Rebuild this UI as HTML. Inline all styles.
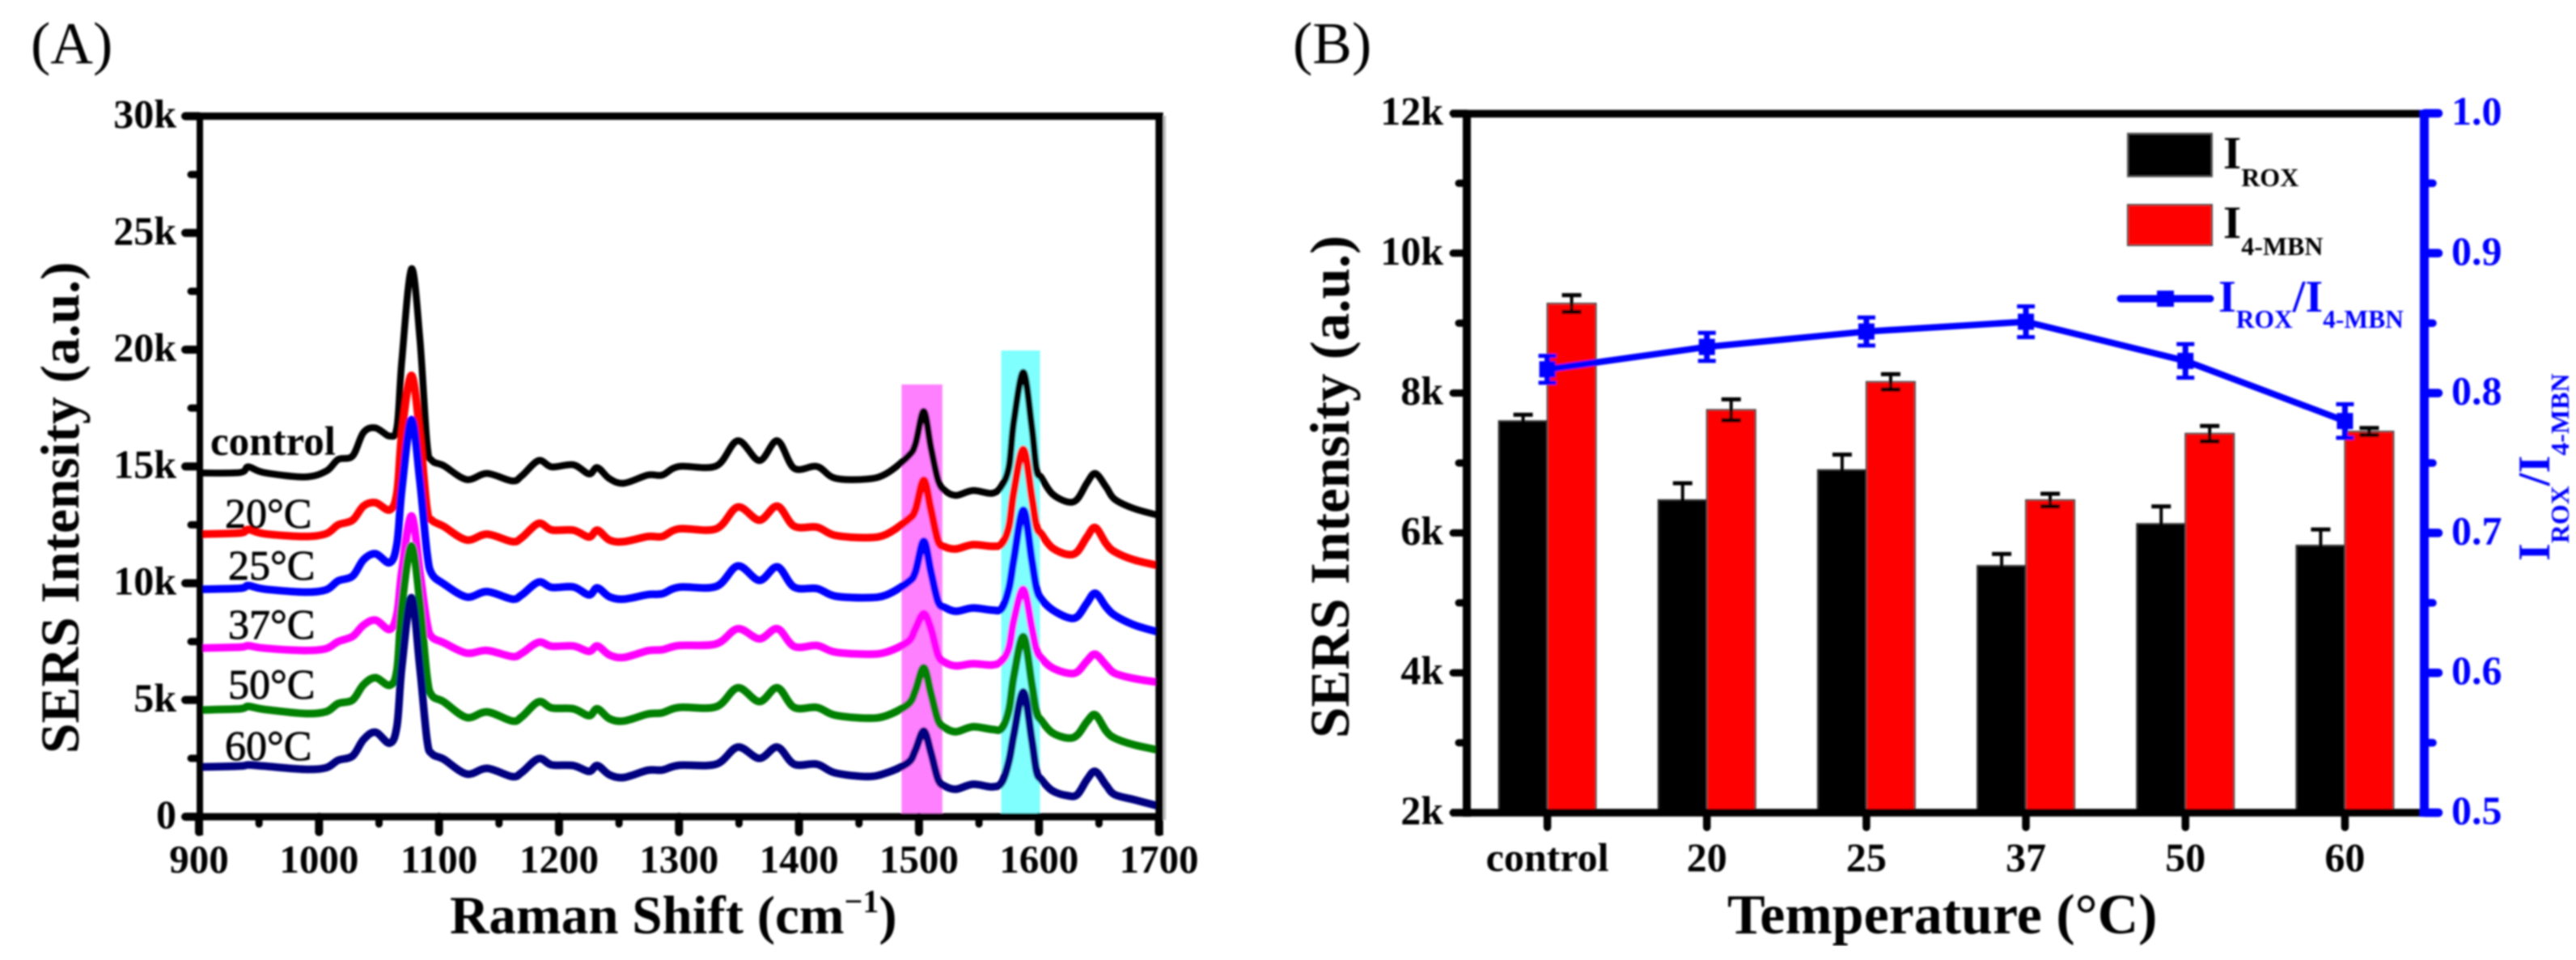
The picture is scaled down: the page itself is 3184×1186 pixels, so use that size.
<!DOCTYPE html>
<html lang="en">
<head>
<meta charset="utf-8">
<title>SERS spectra and intensity by temperature</title>
<style>
html,body{margin:0;padding:0;background:#fff;}
body{width:3184px;height:1186px;overflow:hidden;}
svg{display:block;}
text{font-family:"Liberation Serif",serif;}
.b{font-weight:bold;}
</style>
</head>
<body>
<svg id="figure" xmlns="http://www.w3.org/2000/svg" width="3184" height="1186" viewBox="0 0 3184 1186">
  <defs><filter id="soft" x="0" y="0" width="100%" height="100%"><feGaussianBlur stdDeviation="1"/></filter></defs>
  <rect width="3184" height="1186" fill="#fff"/>
  <g id="root" filter="url(#soft)">
    <text x="38" y="78" font-size="73">(A)</text>
    <text x="1598" y="78" font-size="73">(B)</text>

    <g id="panelA"></g>
    <text class="b" x="556" y="1153" font-size="67">Raman Shift (cm<tspan font-size="40" dy="-26">−1</tspan><tspan dy="26">)</tspan></text>
    <text class="b" transform="translate(97,931) rotate(-90)" font-size="67.5">SERS Intensity (a.u.)</text>

    <g id="panelB"></g>
    <text class="b" x="2135" y="1153" font-size="70">Temperature (°C)</text>
    <text class="b" transform="translate(1667,912) rotate(-90)" font-size="69">SERS Intensity (a.u.)</text>
    <text class="b" fill="#0000ff" transform="translate(3151,693) rotate(-90)" font-size="56">I<tspan font-size="32" dy="24">ROX</tspan><tspan dy="-24">/I</tspan><tspan font-size="32" dy="24">4-MBN</tspan></text>

    <g>
      <rect x="2630" y="165" width="104" height="53" fill="#000" stroke="#555" stroke-width="2"/>
      <text class="b" x="2748" y="208" font-size="57">I<tspan font-size="32" dy="22">ROX</tspan></text>
      <rect x="2630" y="253" width="104" height="50" fill="#ff0000" stroke="#444" stroke-width="2"/>
      <text class="b" x="2748" y="294" font-size="57">I<tspan font-size="32" dy="21">4-MBN</tspan></text>
      <line x1="2621" y1="369" x2="2732" y2="369" stroke="#0000ff" stroke-width="9" stroke-linecap="round"/>
      <rect x="2666" y="359" width="21" height="20" fill="#0000ff"/>
      <text class="b" fill="#0000ff" x="2742" y="385" font-size="56">I<tspan font-size="31.5" dy="20">ROX</tspan><tspan dy="-20">/I</tspan><tspan font-size="31.5" dy="20">4-MBN</tspan></text>
    </g>
  </g>
</svg>
<script>
// Panel A data: Raman shift (cm-1) and intensity (k)
const shifts = [900,934,941,954,988,1006,1016,1028,1037,1047,1059,1065,1069,1077,1084,1090,1094,1104,1123,1140,1161,1169,1183,1194,1212,1225,1232,1242,1254,1274,1286,1300,1331,1349,1367,1382,1396,1415,1430,1457,1473,1491,1497,1504,1510,1516,1522,1531,1545,1561,1569,1575,1579,1587,1594,1598,1602,1611,1624,1632,1640,1647,1656,1663,1679,1700];
const seriesControl = [14.72,14.74,14.98,14.74,14.55,14.8,15.3,15.45,16.45,16.65,16.3,16.7,19.5,23.46,20.5,16.0,15.26,15.03,14.44,14.7,14.38,14.6,15.25,14.98,15.07,14.68,14.95,14.48,14.28,14.63,14.63,15.0,15.02,16.1,15.25,16.1,14.92,15.0,14.5,14.46,14.7,15.44,15.95,17.36,15.8,14.4,13.95,13.76,13.97,13.85,14.18,14.99,16.9,19.03,16.7,14.87,14.52,13.83,13.48,13.6,14.29,14.7,14.12,13.6,13.2,12.9];
const series20 = [12.1,12.15,12.3,12.12,12.0,12.12,12.5,12.7,13.3,13.45,13.14,13.9,16.4,18.9,16.4,13.2,12.7,12.43,11.85,12.1,11.78,11.95,12.56,12.28,12.27,11.98,12.27,11.85,11.78,12.0,12.0,12.33,12.33,13.26,12.7,13.3,12.44,12.4,12.05,11.95,12.1,12.73,13.14,14.41,13.14,11.8,11.55,11.47,11.65,11.58,11.69,12.44,13.9,15.73,13.7,12.44,12.1,11.52,11.23,11.35,11.98,12.38,11.69,11.35,11.0,10.75];
const series25 = [9.74,9.78,9.9,9.75,9.62,9.72,10.1,10.3,11.0,11.26,10.88,11.7,14.0,17.0,14.4,11.3,10.4,9.97,9.41,9.64,9.32,9.5,10.05,9.82,9.84,9.5,9.8,9.42,9.32,9.51,9.55,9.83,9.86,10.74,10.12,10.7,9.83,9.77,9.45,9.38,9.5,10.05,10.48,11.8,10.48,9.2,8.95,8.8,8.94,8.85,8.92,9.78,11.0,13.13,11.0,9.78,9.32,8.87,8.53,8.57,9.15,9.57,8.98,8.63,8.22,7.9];
const series37 = [7.22,7.26,7.32,7.22,7.12,7.2,7.5,7.72,8.2,8.42,8.02,8.7,10.5,12.88,10.5,8.3,7.7,7.45,7.01,7.12,6.86,7.0,7.47,7.3,7.31,7.08,7.31,6.93,6.82,7.11,7.15,7.33,7.4,8.05,7.62,8.05,7.29,7.33,7.05,6.96,7.05,7.5,8.05,8.7,8.05,6.9,6.6,6.46,6.55,6.5,6.67,7.24,8.4,9.74,8.1,7.14,6.79,6.38,6.15,6.2,6.67,6.96,6.49,6.15,5.92,5.75];
const series50 = [4.57,4.62,4.72,4.6,4.42,4.5,4.85,5.0,5.65,5.95,5.63,6.3,9.0,11.6,9.2,6.0,5.2,4.92,4.25,4.49,4.1,4.28,4.92,4.66,4.62,4.33,4.62,4.2,4.1,4.4,4.45,4.68,4.71,5.52,4.93,5.52,4.68,4.68,4.35,4.22,4.33,4.82,5.4,6.38,5.28,4.12,3.8,3.64,3.85,3.74,3.78,4.59,6.0,7.71,5.7,4.47,4.12,3.6,3.37,3.5,4.07,4.36,3.67,3.37,3.08,2.85];
const series60 = [2.13,2.17,2.22,2.17,2.03,2.1,2.42,2.6,3.3,3.62,3.15,3.9,6.4,9.38,6.4,3.3,2.7,2.46,1.83,2.07,1.72,1.9,2.49,2.22,2.19,1.94,2.19,1.8,1.68,1.99,2.0,2.2,2.25,2.98,2.5,2.98,2.25,2.25,1.88,1.72,1.88,2.32,2.85,3.67,2.74,1.59,1.3,1.18,1.39,1.28,1.47,2.39,3.5,5.34,3.3,1.94,1.59,1.12,0.9,0.95,1.59,1.94,1.35,0.95,0.73,0.45];
const seriesLabels = ['control','20°C','25°C','37°C','50°C','60°C'];
const xTicksA = [900,1000,1100,1200,1300,1400,1500,1600,1700];
const xMinorA = [950,1050,1150,1250,1350,1450,1550,1650];
const yTicksA = [0,5,10,15,20,25,30];
const yTickLabelsA = ['0','5k','10k','15k','20k','25k','30k'];
const yMinorA = [2.5,7.5,12.5,17.5,22.5,27.5];
const bandMagenta = [1485.5,1519.5];
const bandCyan = [1568.5,1600.9];

// Panel B data
const categories = ['control','20','25','37','50','60'];
const iRox = [7.6,6.47,6.9,5.53,6.13,5.82];
const iRoxErr = [0.09,0.24,0.22,0.17,0.25,0.23];
const i4Mbn = [9.28,7.76,8.16,6.47,7.42,7.45];
const i4MbnErr = [0.12,0.15,0.11,0.09,0.11,0.05];
const ratio = [0.817,0.833,0.844,0.851,0.823,0.78];
const ratioErr = [0.0096,0.01,0.01,0.011,0.012,0.012];
const yTicksB = [2,4,6,8,10,12];
const yTickLabelsB = ['2k','4k','6k','8k','10k','12k'];
const yMinorB = [3,5,7,9,11];
const yTicksR = [0.5,0.6,0.7,0.8,0.9,1.0];
const yTickLabelsR = ['0.5','0.6','0.7','0.8','0.9','1.0'];
const yMinorR = [0.55,0.65,0.75,0.85,0.95];

const NS = 'http://www.w3.org/2000/svg';
function el(tag, attrs, parent, txt) {
  const e = document.createElementNS(NS, tag);
  for (const k in attrs) e.setAttribute(k, attrs[k]);
  if (txt !== undefined) e.textContent = txt;
  parent.appendChild(e);
  return e;
}
// axis functions
const xA = v => 246 + (v - 900) * (1186.5 / 800);
const yA = v => 1009 - v * (865.5 / 30);
const xB = i => 1814 + (i + 0.5) * (1183 / 6);
const yL = v => 1004 - (v - 2) * (864 / 10);
const yR = v => 1004 - (v - 0.5) * (864 / 0.5);

function smooth(pts) {
  let d = 'M' + pts[0][0].toFixed(1) + ' ' + pts[0][1].toFixed(1);
  for (let i = 0; i < pts.length - 1; i++) {
    const p0 = pts[Math.max(0, i - 1)], p1 = pts[i], p2 = pts[i + 1], p3 = pts[Math.min(pts.length - 1, i + 2)];
    const c1x = p1[0] + (p2[0] - p0[0]) / 6, c1y = p1[1] + (p2[1] - p0[1]) / 6;
    const c2x = p2[0] - (p3[0] - p1[0]) / 6, c2y = p2[1] - (p3[1] - p1[1]) / 6;
    d += 'C' + c1x.toFixed(1) + ' ' + c1y.toFixed(1) + ' ' + c2x.toFixed(1) + ' ' + c2y.toFixed(1) + ' ' + p2[0].toFixed(1) + ' ' + p2[1].toFixed(1);
  }
  return d;
}

/* ---------- Panel A ---------- */
const A = document.getElementById('panelA');
const bm = el('rect', {x: xA(bandMagenta[0]), y: 475, width: xA(bandMagenta[1]) - xA(bandMagenta[0]), height: 532, fill: '#ff80ff'}, A);


const bc = el('rect', {x: xA(bandCyan[0]), y: 433, width: xA(bandCyan[1]) - xA(bandCyan[0]), height: 574, fill: '#80ffff'}, A);



const spectra = [
  [seriesControl, '#000000', 'spectrum-control', 8.5],
  [series20, '#ff0000', 'spectrum-20c', 9.5],
  [series25, '#0000ff', 'spectrum-25c', 9.5],
  [series37, '#ff00ff', 'spectrum-37c', 9.5],
  [series50, '#008000', 'spectrum-50c', 9.5],
  [series60, '#000080', 'spectrum-60c', 9.5]
];
spectra.forEach(s => {
  const pts = s[0].map((v, i) => [xA(shifts[i]), yA(v)]);
  const p = el('path', {d: smooth(pts), fill: 'none', stroke: s[1], 'stroke-width': s[3], 'stroke-linejoin': 'round'}, A);
  
  
});

const labelPosA = [[260, 562], [278, 652], [282, 716], [282, 789], [282, 863], [278, 939]];
seriesLabels.forEach((t, i) => {
  const l = el('text', i === 0
    ? {x: labelPosA[i][0], y: labelPosA[i][1], 'font-size': 51, 'font-weight': 'bold'}
    : {x: labelPosA[i][0], y: labelPosA[i][1], 'font-size': 52, stroke: '#000', 'stroke-width': 0.8}, A, t);
  
  
});

// frame A
const frameA = el('path', {d: 'M228 143.5H1433M228 1009H1433', fill: 'none', stroke: '#000', 'stroke-width': 9}, A);


const leftA = el('line', {x1: 247, x2: 247, y1: 143, y2: 1032, stroke: '#000', 'stroke-width': 8}, A);


const rightA = el('line', {x1: 1433, x2: 1433, y1: 139, y2: 1032, stroke: '#000', 'stroke-width': 9.5}, A);


const shadowA = el('rect', {x: 1438, y: 143, width: 3, height: 870, fill: '#bbb'}, A);



yTicksA.forEach((v, i) => {
  const t = el('line', {x1: 229, x2: 246, y1: yA(v), y2: yA(v), stroke: '#000', 'stroke-width': 10, 'stroke-linecap': 'round'}, A);
  
  
  const l = el('text', {x: 218, y: yA(v) + 14, 'font-size': 50, 'font-weight': 'bold', 'text-anchor': 'end'}, A, yTickLabelsA[i]);
  
  
});
yMinorA.forEach(v => {
  const t = el('line', {x1: 236, x2: 246, y1: yA(v), y2: yA(v), stroke: '#000', 'stroke-width': 9, 'stroke-linecap': 'round'}, A);
  
  
});
xTicksA.forEach(v => {
  const t = el('line', {x1: xA(v), x2: xA(v), y1: 1009, y2: 1028, stroke: '#000', 'stroke-width': 10, 'stroke-linecap': 'round'}, A);
  
  
  const l = el('text', {x: xA(v), y: 1078, 'font-size': 49, 'font-weight': 'bold', 'text-anchor': 'middle'}, A, String(v));
  
  
});
xMinorA.forEach(v => {
  const t = el('line', {x1: xA(v), x2: xA(v), y1: 1009, y2: 1018, stroke: '#000', 'stroke-width': 9, 'stroke-linecap': 'round'}, A);
  
  
});

/* ---------- Panel B ---------- */
const B = document.getElementById('panelB');
const barW = 60;
categories.forEach((c, i) => {
  const bk = el('rect', {x: xB(i) - barW, y: yL(iRox[i]), width: barW, height: yL(2) - yL(iRox[i]), fill: '#000', stroke: '#333', 'stroke-width': 2}, B);
  
  
  const rd = el('rect', {x: xB(i), y: yL(i4Mbn[i]), width: barW, height: yL(2) - yL(i4Mbn[i]), fill: '#ff0000', stroke: '#444', 'stroke-width': 2}, B);
  
  
});
function errBar(cx, hi, lo, color, capW, stemW, capH, name) {
  const stem = el('line', {x1: cx, x2: cx, y1: hi, y2: lo, stroke: color, 'stroke-width': stemW}, B);
  
  
  const capT = el('line', {x1: cx - capW / 2, x2: cx + capW / 2, y1: hi, y2: hi, stroke: color, 'stroke-width': capH}, B);
  
  
  const capB = el('line', {x1: cx - capW / 2, x2: cx + capW / 2, y1: lo, y2: lo, stroke: color, 'stroke-width': capH}, B);
  
  
}
categories.forEach((c, i) => {
  errBar(xB(i) - barW / 2, yL(iRox[i] + iRoxErr[i]), yL(iRox[i] - iRoxErr[i]), '#000', 24, 4, 5, 'error-bar-irox');
  errBar(xB(i) + barW / 2, yL(i4Mbn[i] + i4MbnErr[i]), yL(i4Mbn[i] - i4MbnErr[i]), '#000', 24, 4, 5, 'error-bar-i4mbn');
});

// frame B
const frameB = el('path', {d: 'M1794 140.5H2997M1794 1004H2997', fill: 'none', stroke: '#000', 'stroke-width': 9.5}, B);


const leftB = el('line', {x1: 1813, x2: 1813, y1: 136, y2: 1009, stroke: '#000', 'stroke-width': 10}, B);


yTicksB.forEach((v, i) => {
  const t = el('line', {x1: 1796, x2: 1813, y1: yL(v), y2: yL(v), stroke: '#000', 'stroke-width': 9, 'stroke-linecap': 'round'}, B);
  
  
  const l = el('text', {x: 1784, y: yL(v) + 14, 'font-size': 50, 'font-weight': 'bold', 'text-anchor': 'end'}, B, yTickLabelsB[i]);
  
  
});
yMinorB.forEach(v => {
  const t = el('line', {x1: 1803, x2: 1813, y1: yL(v), y2: yL(v), stroke: '#000', 'stroke-width': 9, 'stroke-linecap': 'round'}, B);
  
  
});
categories.forEach((c, i) => {
  const t = el('line', {x1: xB(i), x2: xB(i), y1: 1004, y2: 1022, stroke: '#000', 'stroke-width': 9.5, 'stroke-linecap': 'round'}, B);
  
  
  const l = el('text', {x: xB(i), y: 1076, 'font-size': 50, 'font-weight': 'bold', 'text-anchor': 'middle'}, B, c);
  
  
});

// right axis
const rightAxis = el('line', {x1: 2996.5, x2: 2996.5, y1: 136, y2: 1009, stroke: '#0000ff', 'stroke-width': 11}, B);


yTicksR.forEach((v, i) => {
  const t = el('line', {x1: 2997, x2: 3014, y1: yR(v), y2: yR(v), stroke: '#0000ff', 'stroke-width': 10.5, 'stroke-linecap': 'round'}, B);
  
  
  const l = el('text', {x: 3030, y: yR(v) + 14, 'font-size': 50, 'font-weight': 'bold', fill: '#0000ff'}, B, yTickLabelsR[i]);
  
  
});
yMinorR.forEach(v => {
  const t = el('line', {x1: 2997, x2: 3007, y1: yR(v), y2: yR(v), stroke: '#0000ff', 'stroke-width': 9.5, 'stroke-linecap': 'round'}, B);
  
  
});

// ratio line
const ratioLine = el('polyline', {points: ratio.map((v, i) => xB(i) + ',' + yR(v)).join(' '), fill: 'none', stroke: '#0000ff', 'stroke-width': 8}, B);


ratio.forEach((v, i) => {
  errBar(xB(i), yR(v + ratioErr[i]), yR(v - ratioErr[i]), '#0000ff', 22, 7, 5, 'error-bar-ratio');
  const m = el('rect', {x: xB(i) - 10, y: yR(v) - 10, width: 20, height: 20, fill: '#0000ff'}, B);
  
  
});
</script>
</body>
</html>
